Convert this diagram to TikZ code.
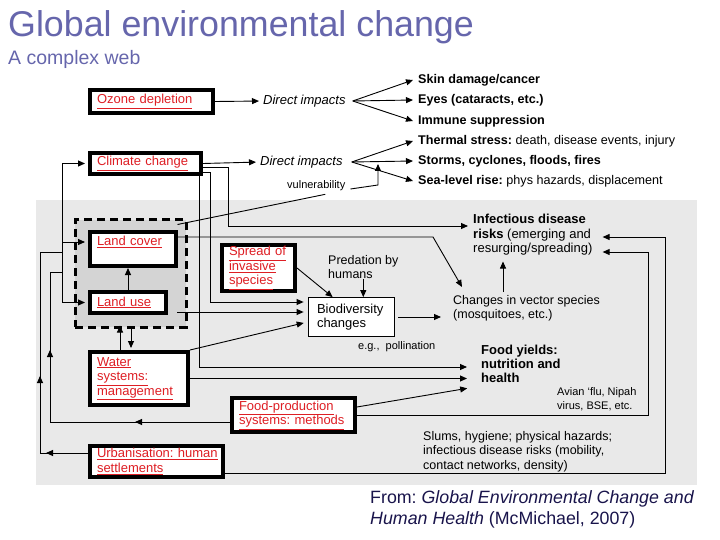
\documentclass[tikz,border=0pt]{standalone}
\usepackage{fontspec}
\setmainfont{Liberation Sans}
\usetikzlibrary{positioning,calc,arrows.meta,decorations.markings}

\definecolor{titleblue}{RGB}{102,102,172}
\definecolor{citeblue}{RGB}{25,20,75}
\definecolor{factorred}{RGB}{222,30,36}
\definecolor{panelgray}{RGB}{233,233,233}
\definecolor{clustergray}{RGB}{212,212,212}

\tikzstyle{factor}=[draw=black, line width=4pt, fill=white, text=factorred, inner xsep=7pt, inner ysep=0pt, align=left, font=\fontsize{13}{14.5}\selectfont]
\tikzstyle{biobox}=[draw=black, line width=0.8pt, fill=white, inner xsep=9pt, inner ysep=0pt, align=left, font=\fontsize{13}{14.5}\selectfont]
\tikzstyle{cluster}=[draw=black, fill=clustergray, line width=3pt, dash pattern=on 8pt off 5pt, inner sep=0pt]
\tikzstyle{effect}=[inner sep=0pt, anchor=west, text height=9pt, text depth=2.5pt, font=\fontsize{12.6}{14.5}\selectfont]
\tikzstyle{note}=[inner sep=0pt, anchor=north west, align=left, font=\fontsize{12.5}{14.5}\selectfont]
\tikzstyle{small}=[font=\fontsize{11}{14}\selectfont]
\tikzstyle{arr}=[-{Triangle[length=7pt,width=6pt]}, line width=0.9pt]
\tikzstyle{link}=[line width=0.9pt]
\tikzset{midarr/.style={postaction={decorate,decoration={markings,mark=at position #1 with {\arrow{Triangle[length=7pt,width=6pt]}}}}}}

\begin{document}
\frenchspacing
\begin{tikzpicture}[x=1pt, y=-1pt]
\useasboundingbox (0,0) rectangle (720,540);

%Title
\node[anchor=west, inner sep=0pt, text=titleblue, font=\fontsize{35.8}{40}\selectfont] (title) at (8,27) {Global environmental change};
\node[anchor=west, inner sep=0pt, text=titleblue, font=\fontsize{19.5}{22}\selectfont] (subtitle) at (8,59) {A complex web};

%Panel
\fill[panelgray] (36,200) rectangle (697,485);
\node[cluster, minimum width=111pt, minimum height=107pt] (landgroup) at (130.5,273.5) {};

%Drivers
\node[factor, text width=109pt, minimum height=23pt] (ozone) at (151.5,101.5) {\underline{Ozone depletion}};
\node[factor, text width=97pt, minimum height=21pt] (climate) at (145.5,163.5) {\underline{Climate change}};
\node[factor, text width=72pt, minimum height=34pt, text depth=16pt] (cover) at (133,249) {\underline{Land cover}};
\node[factor, text width=62pt, minimum height=21pt] (use) at (128,302.5) {\underline{Land use}};
\node[factor, text width=59pt, minimum height=46pt] (spread) at (258.5,268) {\underline{Spread of}\\\underline{invasive}\\\underline{species}};
\node[factor, text width=84pt, minimum height=53pt] (water) at (139,378.5) {\underline{Water}\\\underline{systems:}\\\underline{management}};
\node[factor, text width=109pt, minimum height=34pt] (foodprod) at (293.5,415) {\underline{Food-production}\\\underline{systems: methods}};
\node[factor, text width=119pt, minimum height=31pt] (urban) at (156.5,461.5) {\underline{Urbanisation: human}\\\underline{settlements}};
\node[biobox, text width=68pt, minimum height=39pt] (bio) at (351,317) {Biodiversity\\changes};

%Direct impacts
\node[effect, font=\itshape\fontsize{13}{14.5}\selectfont] (di1) at (263,101) {Direct impacts};
\node[effect, font=\itshape\fontsize{13}{14.5}\selectfont] (di2) at (260,162) {Direct impacts};
\node[small, inner sep=0pt, anchor=west] (vuln) at (287,186) {vulnerability};

\foreach \y/\name/\txt in {80/skin/{\textbf{Skin damage/cancer}}, 100/eyes/{\textbf{Eyes (cataracts, etc.)}}, 121/immune/{\textbf{Immune suppression}}, 141/thermal/{\textbf{Thermal stress:} death, disease events, injury}, 161/storms/{\textbf{Storms, cyclones, floods, fires}}, 181/sealevel/{\textbf{Sea-level rise:} phys hazards, displacement}}
    \node[effect] (\name) at (418,\y) {\txt};

%Outcomes
\node[note] (pred) at (328,255) {Predation by\\humans};
\node[note] (vector) at (453,295) {Changes in vector species\\(mosquitoes, etc.)};
\node[note, font=\fontsize{13}{14.5}\selectfont] (infect) at (473,214) {\textbf{Infectious disease}\\\textbf{risks} (emerging and\\resurging/spreading)};
\node[note, font=\bfseries\fontsize{13}{14}\selectfont] (yields) at (481,345) {Food yields:\\nutrition and\\health};
\node[note, small] (avian) at (557,387) {Avian ‘flu, Nipah\\virus, BSE, etc.};
\node[small, inner sep=0pt, anchor=west] (poll) at (358,347) {e.g.,\ \ pollination};
\node[note] (slums) at (423,431) {Slums, hygiene; physical hazards;\\infectious disease risks (mobility,\\contact networks, density)};
\node[note, text=citeblue, font=\fontsize{17.8}{21}\selectfont] (source) at (370,490) {From: \textit{Global Environmental Change and}\\\textit{Human Health} (McMichael, 2007)};

%Top links
\draw[arr, shorten >=4pt] (ozone.east) -- (di1.west);
\draw[arr, shorten >=4pt] (climate.east) -- (di2.west);
\foreach \dest in {skin,eyes,immune}
    \draw[arr] ([xshift=7pt]di1.east) -- ([xshift=-5pt]\dest.west);
\foreach \dest in {thermal,storms,sealevel}
    \draw[arr] ([xshift=9pt]di2.east) -- ([xshift=-5pt]\dest.west);
\coordinate (vk) at (378,185);
\draw[arr, shorten >=2pt] ([xshift=5pt,yshift=-3pt]vuln.east) -- (vk) -- (vk |- di2.east);
\draw[link] ([xshift=-10pt,yshift=-6pt]landgroup.north east) -- ([xshift=9pt,yshift=-3pt]vuln.south);

%Feedback on the left
\coordinate (u1) at (40,453);
\coordinate (u2) at (40,252);
\coordinate (f1) at (50,422);
\coordinate (f2) at (50,272);
\coordinate (k1) at (62,163.5);
\coordinate (k2) at (62,302.5);
\coordinate (k3) at (62,242);
\draw[link, midarr=42pt, midarr=125pt] (urban.west |- u1) -- (u1) -- (u2) -- (k1 |- u2);
\draw[link, midarr=95pt, midarr=252pt] (foodprod.west |- f1) -- (f1) -- (f2) -- (k1 |- f2);
\draw[arr, shorten >=3pt] (k2) -- (k1) -- (climate.west);
\draw[arr, shorten >=3pt] (k3) -- (cover.west |- k3);
\draw[arr, shorten >=3pt] (k2) -- (use.west);
\draw[arr] (use.north) -- (use.north |- cover.south);

%Land and water
\coordinate (w1) at (120,0);
\coordinate (w2) at (131,0);
\draw[arr, shorten >=-3pt] (water.north -| w1) -- (landgroup.south -| w1);
\draw[arr, shorten >=2pt] (landgroup.south -| w2) -- (water.north -| w2);

%Climate change paths
\coordinate (c1) at (228,226);
\coordinate (c2) at (210,172);
\coordinate (c3) at (199,367);
\draw[arr, shorten >=5pt] ([yshift=-3.5pt]climate.east) -| (c1) -- (c1 -| infect.west);
\draw[arr, shorten >=4pt] (climate.east |- c2) -- (c2) |- ([yshift=15pt]bio.west);
\draw[arr, shorten >=14pt] (climate.south -| c3) -- (c3) -- (c3 -| yields.west);

%Land cover and land use
\coordinate (v1) at (433,237);
\coordinate (lu) at (177,312);
\draw[arr] (cover.east |- v1) -- (v1) -- ([xshift=9pt,yshift=8pt]vector.north west);
\draw[arr, shorten >=4pt] (lu) -- (lu -| bio.west);

%Biodiversity
\coordinate (vi) at (503,294);
\draw[arr] (pred.south) -- (pred.south |- bio.north);
\draw[arr] (spread.east) -- ([xshift=25pt]bio.north west);
\draw[arr, shorten >=4pt] (water.north east) -- ([yshift=-5pt]bio.west);
\draw[arr, shorten <=4pt, shorten >=12pt] (bio.east) -- (bio.east -| vector.west);
\draw[arr, shorten <=2pt, shorten >=6pt] (vi) -- (vi |- infect.south);

%Food yields and infectious disease
\coordinate (i2) at (648,252);
\coordinate (i3) at (665,237);
\draw[arr, shorten >=14pt] (water.east) -- (water.east -| yields.west);
\draw[arr, shorten >=14pt] ([yshift=8pt]foodprod.east) -- ([yshift=-22pt]yields.west);
\draw[arr, shorten >=10pt] (foodprod.east) -| (i2) -- (i2 -| infect.east);
\draw[arr, shorten >=10pt] ([yshift=-11.5pt]urban.east) -| (i3) -- (i3 -| infect.east);

\end{tikzpicture}
\end{document}
